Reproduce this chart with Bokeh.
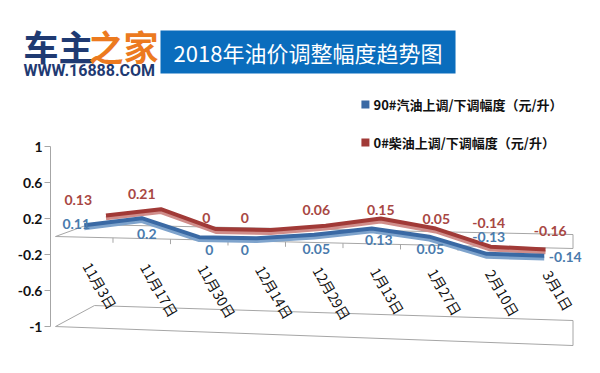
from bokeh.plotting import figure
from bokeh.models import FixedTicker, ColumnDataSource, Range1d
from bokeh.core.properties import value
from bokeh.embed import file_html
from bokeh.resources import INLINE

# ---------------- data ----------------
categories = ["11月3日", "11月17日", "11月30日", "12月14日", "12月29日",
              "1月13日", "1月27日", "2月10日", "3月1日"]
gasoline = [0.11, 0.2, 0, 0, 0.05, 0.13, 0.05, -0.13, -0.14]
diesel = [0.13, 0.21, 0, 0, 0.06, 0.15, 0.05, -0.14, -0.16]
gas_name = "90#汽油上调/下调幅度（元/升）"
diesel_name = "0#柴油上调/下调幅度（元/升）"
y_ticks = [-1, -0.6, -0.2, 0.2, 0.6, 1]
y_tick_labels = ["-1", "-0.6", "-0.2", "0.2", "0.6", "1"]
title_text = "2018年油价调整幅度趋势图"
logo_a = "车主"
logo_b = "之家"
logo_url = "WWW.16888.COM"

# ---------------- style / geometry ----------------
N = len(categories)
W, H = 584, 357
GRAY = "#a6a6a6"
BLUE = "#3a69a4"
BLUE_L = "#7ea3cc"
RED = "#a13a37"
RED_L = "#d08d8a"
BLUE_T = "#4a7bad"
RED_T = "#a84743"
NAVY = "#1f3a72"
ORANGE = "#ec7a1f"
FONT_NUM = value("Lato")
FONT_CJK = value("Noto Sans CJK SC")

# 3D look: perspective tilt (value units per category) and depth offsets
TILT = 0.011
BLUE_DEPTH = 0.02
RED_DEPTH = 0.11
RED_DX = 0.4
# data-label nudges in pixels (dx, dy) - screen y grows downward
RED_LAB_DX = [-6, 0, 7, -12, 2, 9, 7, 2, 6]
RED_LAB_DY = [-15, -15, -11, -12, -16, -9, -10, -24, -18]
BLUE_LAB_DX = [-8, 5, 10, -12, 2, 7, 1, 2, 21]
BLUE_LAB_DY = [-1, 16, 13, 12, 14, 12, 12, -17, 1]

p = figure(width=W, height=H, x_range=Range1d(-0.9565, 9.200),
           y_range=Range1d(-1.344, 2.622), x_axis_type=None,
           output_backend="svg", toolbar_location=None, min_border=0)
p.grid.visible = False
p.outline_line_color = None

ax = p.yaxis[0]
ax.fixed_location = -0.087
ax.ticker = FixedTicker(ticks=y_ticks)
ax.bounds = (-1, 1)
ax.major_label_overrides = {t: s for t, s in zip(y_ticks, y_tick_labels)}
ax.axis_line_color = GRAY
ax.major_tick_line_color = GRAY
ax.major_tick_out = 6
ax.major_tick_in = 0
ax.minor_tick_line_color = None
ax.major_label_text_font = "Lato"
ax.major_label_text_font_style = "bold"
ax.major_label_text_font_size = "14px"
ax.major_label_text_color = "#111111"
ax.major_label_standoff = 2

# ---------------- header: logo + title box ----------------
p.text(x=[-0.5565], y=[2.122], text=[logo_a], text_font=FONT_CJK,
       text_font_style="bold", text_font_size="35px", text_color=NAVY,
       text_align="left", text_baseline="middle")
p.text(x=[0.574], y=[2.122], text=[logo_b], text_font=FONT_CJK,
       text_font_style="bold", text_font_size="35px", text_color=ORANGE,
       text_align="left", text_baseline="middle")
p.text(x=[-0.5565], y=[1.839], text=[logo_url], text_font=value("Roboto"),
       text_font_style="bold", text_font_size="16px", text_color=NAVY,
       text_align="left", text_baseline="middle")
p.quad(left=[1.826], right=[6.957], bottom=[1.811], top=[2.289],
       fill_color="#0a6dbd", line_color=None)
p.text(x=[4.391], y=[2.05], text=[title_text], text_font=FONT_CJK,
       text_font_size="22px", text_color="white", text_align="center",
       text_baseline="middle")

# ---------------- 3D frame decorations: zero plane and floor ----------------
zf = -0.133
p.segment(x0=[0, 0.57, 0, N], y0=[0, 0.133, 0, 0.022],
          x1=[N, N, 0.57, N], y1=[zf, 0.022, 0.133, zf],
          line_color=GRAY, line_width=1)
p.segment(x0=[0, 0.678, 0, N], y0=[-1, -0.767, -1, -0.933],
          x1=[N, N, 0.678, N], y1=[-1.211, -0.933, -0.767, -1.211],
          line_color=GRAY, line_width=1)
tx = list(range(1, N))
p.segment(x0=tx, y0=[zf * k / N for k in tx], x1=tx,
          y1=[zf * k / N - 0.055 for k in tx], line_color=GRAY, line_width=1)

# ---------------- series ----------------
xs = [i + 0.5 for i in range(N)]
xs_red = [x + RED_DX * (1 - x / N) for x in xs]
ys_red = [v + RED_DEPTH - TILT * x for v, x in zip(diesel, xs)]
ys_blue = [v + BLUE_DEPTH - TILT * x for v, x in zip(gasoline, xs)]

p.line(xs_red, [y - 0.032 for y in ys_red], line_width=4, line_color=RED_L)
p.line(xs_red, ys_red, line_width=4, line_color=RED)
p.line(xs, [y - 0.032 for y in ys_blue], line_width=4, line_color=BLUE_L)
p.line(xs, ys_blue, line_width=4, line_color=BLUE)

lab_red = ColumnDataSource(dict(x=xs, y=ys_red, t=[f"{v:g}" for v in diesel],
                                dx=RED_LAB_DX, dy=RED_LAB_DY))
lab_blue = ColumnDataSource(dict(x=xs, y=ys_blue, t=[f"{v:g}" for v in gasoline],
                                 dx=BLUE_LAB_DX, dy=BLUE_LAB_DY))
p.text(x="x", y="y", text="t", source=lab_red, x_offset="dx", y_offset="dy",
       text_font=FONT_NUM, text_font_style="bold", text_font_size="14px",
       text_color=RED_T, text_align="center", text_baseline="middle")
p.text(x="x", y="y", text="t", source=lab_blue, x_offset="dx", y_offset="dy",
       text_font=FONT_NUM, text_font_style="bold", text_font_size="14px",
       text_color=BLUE_T, text_align="center", text_baseline="middle")

# rotated category labels
cat_src = ColumnDataSource(dict(x=[x + 0.05 for x in xs],
                                y=[-0.30 - 0.0115 * i for i in range(N)],
                                t=categories))
p.text(x="x", y="y", text="t", source=cat_src, angle=-1.04,
       text_font=FONT_CJK, text_font_size="14px", text_color="#111111",
       text_align="left", text_baseline="middle")

# ---------------- legend ----------------
p.scatter(x=[5.39, 5.39], y=[1.467, 1.044], marker="square", size=8,
          fill_color=[BLUE, RED], line_color=None)
p.text(x=[5.53, 5.53], y=[1.467, 1.044], text=[gas_name, diesel_name],
       text_font=FONT_CJK, text_font_style="bold", text_font_size="13px",
       text_color="#111111", text_align="left", text_baseline="middle")

open("out.html", "w").write(file_html(p, INLINE))
